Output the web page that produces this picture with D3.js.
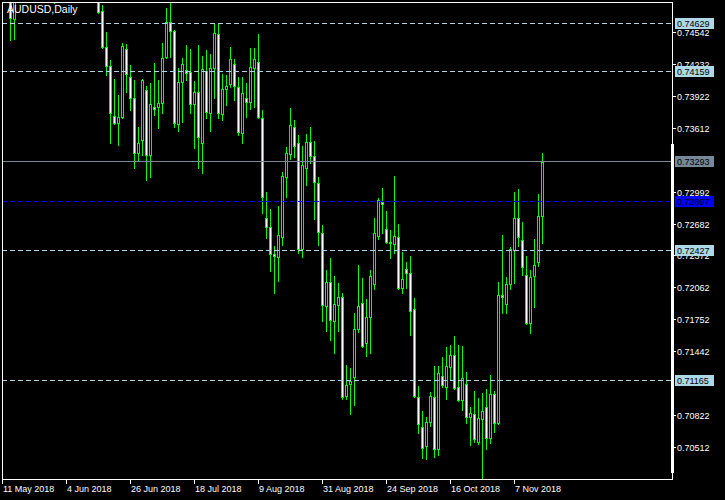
<!DOCTYPE html>
<html><head><meta charset="utf-8">
<script src="https://cdn.jsdelivr.net/npm/d3@7"></script>
<style>html,body{margin:0;padding:0;background:#000;overflow:hidden}</style>
</head><body><svg id="c" width="725" height="500"></svg>
<script>
const chartTitle = "AUDUSD,Daily";
const firstDay = "2018-05-11", lastDay = "2018-11-16";

const open = [
0.7520,0.7535,0.7515,0.74669,0.7505,0.7500,0.7520,0.7530,0.7550,0.7580,
0.7570,0.7550,0.7560,0.7530,0.7565,0.7565,0.7585,0.7610,0.7625,0.7650,
0.7630,0.7600,0.7610,0.7630,0.7595,0.74746,0.74397,0.74212,0.73727,0.73659,
0.73717,0.74377,0.74105,0.73901,0.73367,0.73494,0.73979,0.73348,0.73814,0.73814,
0.73853,0.74300,0.74639,0.74552,0.73649,0.74057,0.74173,0.74154,0.73843,0.73960,
0.73465,0.74164,0.73756,0.74193,0.74523,0.73746,0.73989,0.74037,0.74232,0.74008,
0.73562,0.73901,0.73863,0.74193,0.74251,0.73707,0.72736,0.72649,0.72387,0.72358,
0.72552,0.73134,0.73358,0.73620,0.73465,0.72435,0.73222,0.73474,0.73338,0.73076,
0.72591,0.71882,0.72115,0.71736,0.71891,0.71969,0.71008,0.71124,0.71192,0.71658,
0.71911,0.71522,0.71775,0.72095,0.72561,0.72892,0.72629,0.72503,0.72484,0.72552,
0.72057,0.72241,0.72202,0.71853,0.70998,0.70707,0.70522,0.70755,0.70998,0.70493,
0.71202,0.71095,0.71289,0.71406,0.71095,0.70969,0.71124,0.70804,0.70833,0.70561,
0.70785,0.70901,0.70600,0.71027,0.70746,0.71989,0.71901,0.72095,0.72426,0.72736,
0.72523,0.72183,0.71717,0.72173,0.72309,0.72756];

const high = [
0.7545,0.7560,0.7525,0.7515,0.7535,0.7525,0.7545,0.7560,0.7590,0.7600,
0.7585,0.7570,0.7575,0.7575,0.7590,0.7600,0.7620,0.7640,0.7660,0.7676,
0.7640,0.7625,0.7640,0.7645,0.7610,0.74804,0.74542,0.74270,0.74086,0.73931,
0.74435,0.74426,0.74222,0.74076,0.73620,0.74086,0.74018,0.74047,0.74241,0.74076,
0.74435,0.74775,0.74882,0.74562,0.74193,0.74290,0.74416,0.74377,0.74066,0.74416,
0.74309,0.74368,0.74329,0.74630,0.74630,0.74134,0.74125,0.74397,0.74280,0.74105,
0.74105,0.74047,0.74387,0.74387,0.74523,0.73785,0.72989,0.72824,0.72464,0.72853,
0.73183,0.73426,0.73804,0.73688,0.73542,0.73435,0.73552,0.73620,0.73484,0.73134,
0.72668,0.72231,0.72348,0.72173,0.72105,0.72008,0.71309,0.71280,0.71814,0.72280,
0.72154,0.71950,0.72231,0.72736,0.72930,0.73028,0.72804,0.72620,0.73144,0.72678,
0.72406,0.72309,0.72367,0.71959,0.71105,0.70862,0.70804,0.71047,0.71299,0.71299,
0.71387,0.71484,0.71503,0.71590,0.71503,0.71493,0.71241,0.70901,0.71056,0.70988,
0.71037,0.71076,0.71212,0.71056,0.72115,0.72571,0.72163,0.72455,0.72989,0.73018,
0.72697,0.72367,0.72231,0.72532,0.72969,0.73367];

const low = [
0.7505,0.7510,0.74465,0.74474,0.7495,0.7490,0.7505,0.7520,0.7540,0.7550,
0.7540,0.7530,0.7515,0.74824,0.7550,0.7545,0.7570,0.7590,0.7610,0.7620,
0.7580,0.7580,0.7595,0.7585,0.74730,0.74387,0.74125,0.73465,0.73649,0.73445,
0.73707,0.73960,0.73785,0.73222,0.73290,0.73348,0.73105,0.73134,0.73736,0.73610,
0.73756,0.74290,0.74300,0.73620,0.73581,0.73668,0.74076,0.73756,0.73416,0.73222,
0.73173,0.73707,0.73581,0.73901,0.73707,0.73688,0.73833,0.74008,0.73882,0.73542,
0.73465,0.73717,0.73795,0.73814,0.73707,0.72785,0.72542,0.72222,0.72008,0.72125,
0.72474,0.72940,0.73309,0.73329,0.72396,0.72358,0.73057,0.73270,0.72727,0.72474,
0.71736,0.71639,0.71552,0.71425,0.71639,0.70979,0.70979,0.70833,0.70920,0.71629,
0.71484,0.71396,0.71425,0.72047,0.72532,0.72591,0.72494,0.72348,0.72396,0.72047,
0.72008,0.72057,0.71600,0.70998,0.70649,0.70406,0.70396,0.70717,0.70415,0.70435,
0.71095,0.70979,0.71163,0.71076,0.70959,0.70872,0.70746,0.70532,0.70561,0.70542,
0.70150,0.70493,0.70552,0.70658,0.70736,0.71814,0.71814,0.72047,0.72105,0.72464,
0.72183,0.71707,0.71620,0.71872,0.72270,0.72494];

const close = [
0.7535,0.7515,0.74678,0.7505,0.7500,0.7520,0.7530,0.7550,0.7580,0.7570,
0.7550,0.7560,0.7530,0.7565,0.7565,0.7585,0.7610,0.7625,0.7650,0.7630,
0.7600,0.7610,0.7630,0.7595,0.74740,0.74397,0.74212,0.73756,0.73659,0.73717,
0.74406,0.74134,0.73901,0.73367,0.73465,0.74076,0.73348,0.73843,0.73795,0.73853,
0.74290,0.74639,0.74552,0.73659,0.74057,0.74232,0.74144,0.73843,0.73960,0.73523,
0.74183,0.73765,0.74193,0.74533,0.73756,0.73989,0.74018,0.74280,0.74018,0.73571,
0.73950,0.73863,0.74202,0.74280,0.73717,0.72940,0.72649,0.72387,0.72367,0.72571,
0.73144,0.73367,0.73639,0.73435,0.72435,0.73251,0.73474,0.73338,0.73086,0.72600,
0.71891,0.72115,0.71746,0.71901,0.71969,0.70998,0.71115,0.71154,0.71658,0.71882,
0.71493,0.71775,0.72173,0.72591,0.72911,0.72872,0.72503,0.72494,0.72561,0.72057,
0.72144,0.72202,0.71833,0.71008,0.70736,0.70503,0.70755,0.71008,0.70493,0.71231,
0.71115,0.71299,0.71406,0.71086,0.70969,0.71183,0.70804,0.70843,0.70590,0.70794,
0.70862,0.70600,0.71027,0.70746,0.71989,0.71969,0.72095,0.72435,0.72736,0.72552,
0.72260,0.71717,0.72163,0.72280,0.72756,0.73280];

// tick labels visible on the price scale (those hidden under the coloured level boxes are omitted)
const priceTicks = [0.74542,0.74232,0.73922,0.73612,0.72992,0.72682,0.72372,0.72062,0.71752,0.71442,0.70822,0.70512];
const dateTickLabels = ["11 May 2018","4 Jun 2018","26 Jun 2018","18 Jul 2018","9 Aug 2018","31 Aug 2018","24 Sep 2018","16 Oct 2018","7 Nov 2018"];
const levelLines = [0.74629,0.74159,0.72427,0.71165];
const bidLevel = 0.73293;
const blueLevel = 0.72897;

const GREEN = "#00ff00", LBLUE = "#add8e6", GREY = "#778899", BLUE = "#0000ff";
const FONT = "'Liberation Sans', Arial, sans-serif";

const parse = d3.utcParse("%Y-%m-%d");
const fmtDate = d3.utcFormat("%-d %b %Y");
const days = d3.utcDay.range(parse(firstDay), d3.utcDay.offset(parse(lastDay), 1))
  .filter(d => d.getUTCDay() !== 0 && d.getUTCDay() !== 6);

const candles = days.map((d, i) => ({date: d, o: open[i], h: high[i], l: low[i], c: close[i]}));

const x = d3.scaleBand().domain(days).range([0, 4 * days.length]).paddingInner(0).paddingOuter(0);
const cx = d => Math.round(x(d) + x.bandwidth() / 2);
const y = d3.scaleLinear().domain([0.70512, 0.74542]).range([447, 32]);
const ry = v => Math.round(y(v));

const L = 2, R = 672, T = 2, B = 479;

const svg = d3.select("#c").attr("shape-rendering", "crispEdges");
svg.append("rect").attr("width", 725).attr("height", 500).attr("fill", "#000");

svg.append("defs").append("clipPath").attr("id", "plot")
  .append("rect").attr("x", L + 1).attr("y", T + 1).attr("width", R - L - 1).attr("height", B - T - 1);

const plot = svg.append("g").attr("clip-path", "url(#plot)");

// wicks
plot.append("g").selectAll("line").data(candles).join("line")
  .attr("x1", d => cx(d.date) + 0.5).attr("x2", d => cx(d.date) + 0.5)
  .attr("y1", d => ry(d.h)).attr("y2", d => ry(d.l) + 1)
  .attr("stroke", GREEN).attr("stroke-width", 1);

// bodies
const bodies = plot.append("g");
candles.forEach(d => {
  const a = ry(d.o), b = ry(d.c);
  const top = Math.min(a, b), bot = Math.max(a, b);
  const xc = cx(d.date);
  if (bot - top < 1) {
    bodies.append("line").attr("x1", xc - 1).attr("x2", xc + 2)
      .attr("y1", top + 0.5).attr("y2", top + 0.5).attr("stroke", GREEN);
  } else {
    bodies.append("rect").attr("x", xc - 0.5).attr("y", top + 0.5)
      .attr("width", 2).attr("height", bot - top)
      .attr("fill", d.c >= d.o ? "#000" : "#fff")
      .attr("stroke", GREEN).attr("stroke-width", 1);
  }
});

// horizontal level lines
plot.append("g").selectAll("line").data(levelLines).join("line")
  .attr("x1", L).attr("x2", R).attr("y1", d => ry(d) + 0.5).attr("y2", d => ry(d) + 0.5)
  .attr("stroke", LBLUE).attr("stroke-dasharray", "5,3");
plot.append("line").attr("x1", L).attr("x2", R)
  .attr("y1", ry(blueLevel) + 0.5).attr("y2", ry(blueLevel) + 0.5)
  .attr("stroke", BLUE).attr("stroke-dasharray", "5,3");
plot.append("line").attr("x1", L).attr("x2", R)
  .attr("y1", ry(bidLevel) + 0.5).attr("y2", ry(bidLevel) + 0.5)
  .attr("stroke", GREY);

// frame
const frame = svg.append("g").attr("stroke", "#fff").attr("fill", "none");
frame.append("rect").attr("x", L + 0.5).attr("y", T + 0.5).attr("width", R - L).attr("height", B - T);
svg.append("rect").attr("x", R - 1).attr("y", 144).attr("width", 3).attr("height", 329).attr("fill", "#fff");

// title
svg.append("text").attr("x", 7).attr("y", 13).attr("fill", "#fff")
  .attr("font-family", FONT).attr("font-size", "10.5px").text(chartTitle);

// price axis
const fmtP = d3.format(".5f");
const pa = svg.append("g");
priceTicks.forEach(v => {
  const yy = ry(v);
  pa.append("line").attr("x1", R).attr("x2", R + 4).attr("y1", yy + 0.5).attr("y2", yy + 0.5).attr("stroke", "#fff");
  pa.append("text").attr("x", R + 5).attr("y", yy + 3.5).attr("fill", "#fff")
    .attr("font-family", FONT).attr("font-size", "9px").text(fmtP(v));
});

// highlighted price labels
const boxes = levelLines.map(v => ({v, bg: LBLUE})).concat([{v: bidLevel, bg: GREY}, {v: blueLevel, bg: BLUE}]);
boxes.forEach(b => {
  const yy = ry(b.v);
  pa.append("rect").attr("x", R + 3).attr("y", yy - 5).attr("width", 39).attr("height", 11).attr("fill", b.bg);
  pa.append("text").attr("x", R + 5).attr("y", yy + 3.5).attr("fill", "#000")
    .attr("font-family", FONT).attr("font-size", "9px").text(fmtP(b.v));
});

// date axis
const da = svg.append("g");
days.filter(d => dateTickLabels.includes(fmtDate(d))).forEach(d => {
  const xx = cx(d);
  da.append("line").attr("x1", xx + 0.5).attr("x2", xx + 0.5).attr("y1", B + 1).attr("y2", B + 5).attr("stroke", "#fff");
  da.append("text").attr("x", xx + 1).attr("y", B + 13).attr("fill", "#fff")
    .attr("font-family", FONT).attr("font-size", "9px").text(fmtDate(d));
});
</script>
</body></html>
